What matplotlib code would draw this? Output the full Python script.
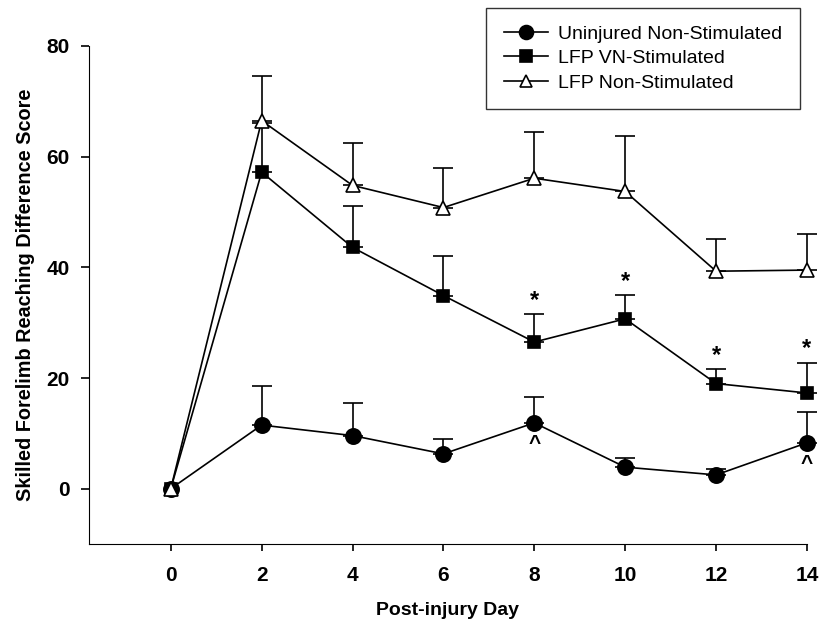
import numpy as np
from matplotlib import pyplot as plt
from matplotlib.lines import Line2D

plt.rcParams['font.family'] = ['Liberation Sans', 'DejaVu Sans']

days = [0, 2, 4, 6, 8, 10, 12, 14]

# Uninjured Non-Stimulated
uninj = [0, 11.5, 9.6, 6.3, 11.9, 3.9, 2.5, 8.3]
uninj_err = [0, 7.1, 5.8, 2.7, 4.7, 1.7, 1.0, 5.5]

# LFP VN-Stimulated
vns = [0, 57.2, 43.6, 34.9, 26.5, 30.7, 19.0, 17.3]
vns_err = [0, 8.9, 7.5, 7.2, 5.0, 4.3, 2.6, 5.5]

# LFP Non-Stimulated
nonstim = [0, 66.5, 54.8, 50.8, 56.1, 53.7, 39.3, 39.5]
nonstim_err = [0, 8.0, 7.6, 7.2, 8.4, 10.0, 5.9, 6.5]

star_days = [8, 10, 12, 14]
caret_days = [8, 14]

fig = plt.figure(figsize=(8.2, 6.29), dpi=100)
ax = fig.add_axes([0.1085, 0.135, 0.8756, 0.792])

series = [
    (uninj, uninj_err, 'o', 11, 'black', 'Uninjured Non-Stimulated', 3),
    (vns, vns_err, 's', 9, 'black', 'LFP VN-Stimulated', 3),
    (nonstim, nonstim_err, '^', 10, 'white', 'LFP Non-Stimulated', 4),
]
handles = []
for vals, errs, mk, ms, fc, name, z in series:
    # only the upper half of the error bar, skipped where there is none
    x_e = [d for d, e in zip(days, errs) if e > 0]
    y_e = [v for v, e in zip(vals, errs) if e > 0]
    e_e = [e for e in errs if e > 0]
    ax.errorbar(x_e, y_e, yerr=[np.zeros(len(e_e)), e_e], fmt='none',
                ecolor='black', elinewidth=1.2, capsize=7, capthick=1.2,
                zorder=z - 1, clip_on=False)
    ax.plot(days, vals, color='black', lw=1.2, marker=mk, ms=ms, mfc=fc,
            mec='black', mew=1.2, zorder=z, clip_on=False)
    handles.append(Line2D([], [], color='black', lw=1.2, marker=mk, ms=ms - 1,
                          mfc=fc, mec='black', mew=1.2, label=name))

# significance marks
for d in star_days:
    i = days.index(d)
    ax.text(d, vns[i] + vns_err[i] + 0.4, '*', ha='center', va='bottom',
            fontsize=17, fontweight='bold')
for d in caret_days:
    i = days.index(d)
    ax.text(d, uninj[i] - 2.0, '^', ha='center', va='top',
            fontsize=15, fontweight='bold')

ax.set_xlim(-1.8, 14)
ax.set_ylim(-10, 80)
ax.set_xticks(days)
ax.set_yticks([0, 20, 40, 60, 80])
ax.spines['top'].set_visible(False)
ax.spines['right'].set_visible(False)
ax.tick_params(direction='out', length=6, width=1.2, labelsize=15, pad=8)
ax.tick_params(axis='x', length=5, pad=11)
for lbl in ax.get_xticklabels() + ax.get_yticklabels():
    lbl.set_fontweight('bold')

ax.set_xlabel('Post-injury Day', fontsize=14, fontweight='bold', labelpad=12)
ax.set_ylabel('Skilled Forelimb Reaching Difference Score', fontsize=14.3,
              fontweight='bold', labelpad=8)

leg = ax.legend(handles=handles, loc='upper right', bbox_to_anchor=(0.99, 1.077),
                fontsize=14, frameon=True, fancybox=False, edgecolor='black',
                handlelength=2.3, borderpad=0.9, labelspacing=0.35,
                handletextpad=0.5, borderaxespad=0)
leg.get_frame().set_linewidth(1.0)

fig.savefig('out.png', dpi=100)
